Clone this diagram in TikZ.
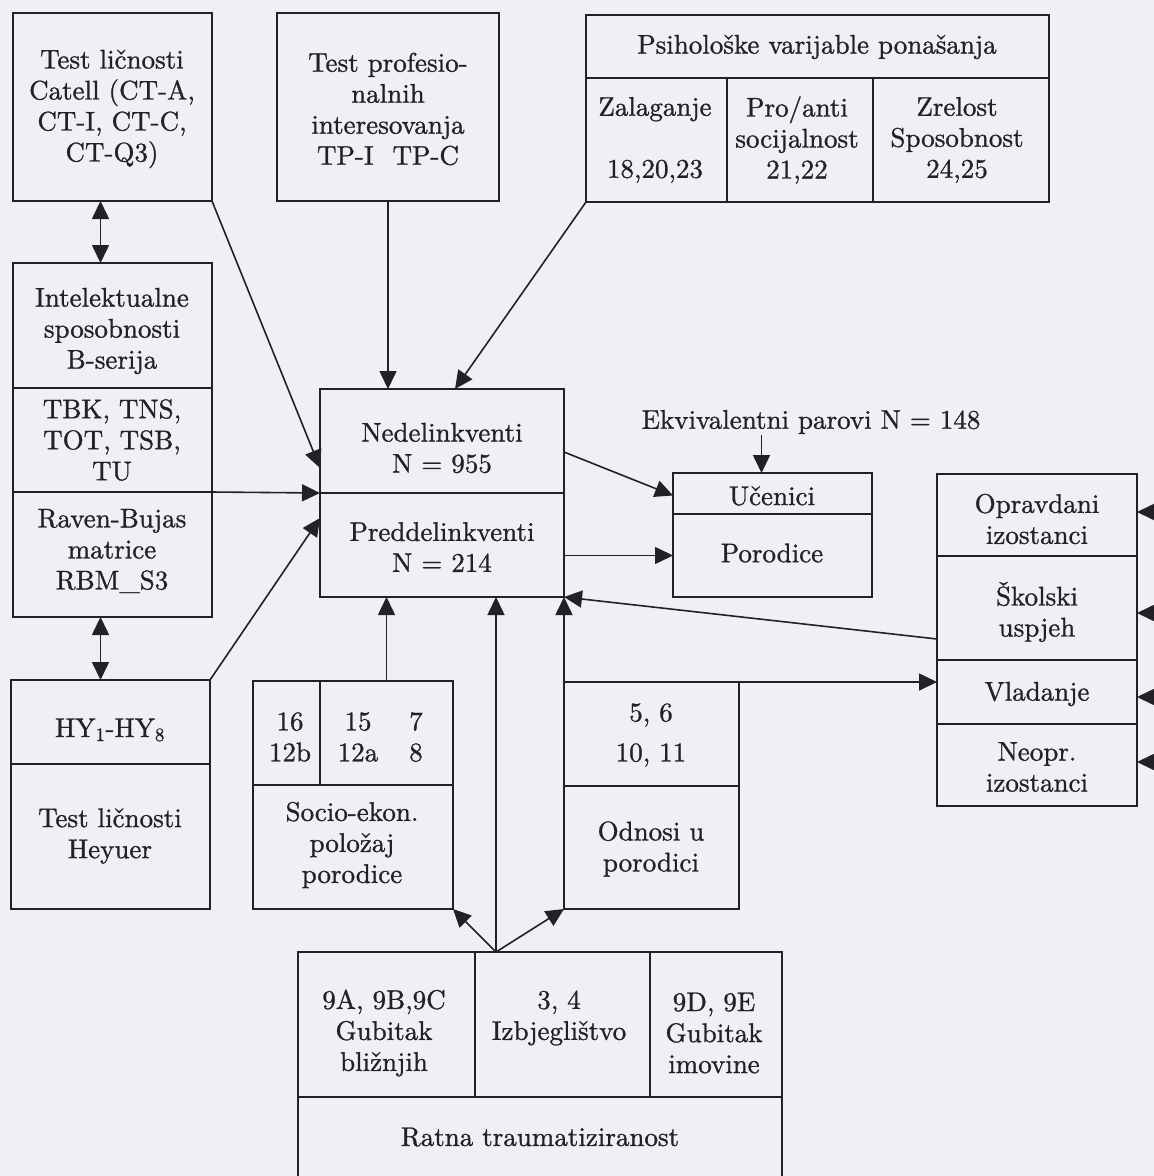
\documentclass[tikz,border=0pt]{standalone}
\usepackage{fontspec}
\setmainfont{lmroman10-regular.otf}[FakeBold=1.0]
\usetikzlibrary{arrows.meta}
\definecolor{bgc}{RGB}{239,239,244}
\definecolor{ink}{RGB}{34,34,38}
\begin{document}
\begin{tikzpicture}[x=1pt,y=-1pt,
  cell/.style={draw=ink, line width=1.7pt, anchor=north west, inner sep=0pt, outer sep=0pt},
  txt/.style={align=center, inner sep=1pt, text=ink, font=\fontsize{27}{31}\selectfont},
  arr/.style={draw=ink, line width=1.6pt, -{Triangle[length=18pt,width=17pt]}},
  dbl/.style={draw=ink, line width=1.6pt, {Triangle[length=18pt,width=17pt]}-{Triangle[length=18pt,width=17pt]}}]
\useasboundingbox (0,0) rectangle (1154,1176);
\clip (0,0) rectangle (1154,1176);
\fill[bgc] (0,0) rectangle (1154,1176);

% cells
\node[cell, minimum width=199pt, minimum height=188pt] (catell) at (13,13) {};
\node[cell, minimum width=199pt, minimum height=125pt] (intel1) at (13,263) {};
\node[cell, minimum width=199pt, minimum height=104pt] (intel2) at (13,388) {};
\node[cell, minimum width=199pt, minimum height=125pt] (intel3) at (13,492) {};
\node[cell, minimum width=199pt, minimum height=84pt] (hy1) at (11,680) {};
\node[cell, minimum width=199pt, minimum height=145pt] (hy2) at (11,764) {};
\node[cell, minimum width=222pt, minimum height=188pt] (tp) at (277,13) {};
\node[cell, minimum width=463pt, minimum height=63pt] (psih) at (586,15) {};
\node[cell, minimum width=141pt, minimum height=124pt] (psi1) at (586,78) {};
\node[cell, minimum width=146pt, minimum height=124pt] (psi2) at (727,78) {};
\node[cell, minimum width=176pt, minimum height=124pt] (psi3) at (873,78) {};
\node[cell, minimum width=244pt, minimum height=104pt] (ned) at (320,389) {};
\node[cell, minimum width=244pt, minimum height=104pt] (pred) at (320,493) {};
\node[cell, minimum width=199pt, minimum height=41pt] (uc1) at (673,473) {};
\node[cell, minimum width=199pt, minimum height=83pt] (uc2) at (673,514) {};
\node[cell, minimum width=200pt, minimum height=82pt] (r1) at (937,474) {};
\node[cell, minimum width=200pt, minimum height=104pt] (r2) at (937,556) {};
\node[cell, minimum width=200pt, minimum height=64pt] (r3) at (937,660) {};
\node[cell, minimum width=200pt, minimum height=82pt] (r4) at (937,724) {};
\node[cell, minimum width=67pt, minimum height=104pt] (socio1a) at (253,681) {};
\node[cell, minimum width=133pt, minimum height=104pt] (socio1b) at (320,681) {};
\node[cell, minimum width=200pt, minimum height=124pt] (socio2) at (253,785) {};
\node[cell, minimum width=175pt, minimum height=104pt] (odn1) at (564,682) {};
\node[cell, minimum width=175pt, minimum height=123pt] (odn2) at (564,786) {};
\node[cell, minimum width=177pt, minimum height=145pt] (ratna1) at (298,952) {};
\node[cell, minimum width=175pt, minimum height=145pt] (ratna2) at (475,952) {};
\node[cell, minimum width=132pt, minimum height=145pt] (ratna3) at (650,952) {};
\node[cell, minimum width=484pt, minimum height=140pt] (ratna4) at (298,1097) {};

% texts
\node[txt] (tcatell) at (112,109) {Test ličnosti\\Catell (CT-A,\\CT-I, CT-C,\\CT-Q3)};
\node[txt] (ttp) at (388,109) {Test profesio-\\nalnih\\interesovanja\\TP-I\hspace{0.7em}TP-C};
\node[txt] (tintel1) at (112,331) {Intelektualne\\sposobnosti\\B-serija};
\node[txt] (tintel2) at (112,440) {TBK, TNS,\\TOT, TSB,\\TU};
\node[txt] (tintel3) at (112,551) {Raven-Bujas\\matrice\\RBM\_S3};
\node[txt] (thy1) at (110,730) {HY\textsubscript{1}-HY\textsubscript{8}};
\node[txt] (thy2) at (110,836) {Test ličnosti\\Heyuer};
\node[txt] (tpsih) at (817,47) {Psihološke varijable ponašanja};
\node[txt] (tpsi1) at (655,140) {Zalaganje\\\mbox{}\\18,20,23};
\node[txt] (tpsi2) at (797,140) {Pro/anti\\socijalnost\\21,22};
\node[txt] (tpsi3) at (957,140) {Zrelost\\Sposobnost\\24,25};
\node[txt] (tned) at (442,448) {Nedelinkventi\\N = 955};
\node[txt] (tpred) at (442,547) {Preddelinkventi\\N = 214};
\node[txt] (ekv) at (811,422) {Ekvivalentni parovi N = 148};
\node[txt] (tuc1) at (772,496) {Učenici};
\node[txt] (tuc2) at (772,553) {Porodice};
\node[txt] (tr1) at (1037,519) {Opravdani\\izostanci};
\node[txt] (tr2) at (1037,612) {Školski\\uspjeh};
\node[txt] (tr3) at (1037,694) {Vladanje};
\node[txt] (tr4) at (1037,767) {Neopr.\\izostanci};
\node[txt] (ts16) at (290,737) {16\\12b};
\node[txt] (ts15) at (358,737) {15\\12a};
\node[txt] (ts7) at (416,737) {7\\8};
\node[txt] (tsocio2) at (352,845) {Socio-ekon.\\položaj\\porodice};
\node[txt] (todn1) at (651,735) {5, 6\\[9pt]10, 11};
\node[txt] (todn2) at (651,849) {Odnosi u\\porodici};
\node[txt] (tratna1) at (384,1033) {9A, 9B,9C\\Gubitak\\bližnjih};
\node[txt] (tratna2) at (559,1018) {3, 4\\Izbjeglištvo};
\node[txt] (tratna3) at (714,1033) {9D, 9E\\Gubitak\\imovine};
\node[txt] (tratna4) at (540,1137) {Ratna traumatiziranost};

% connectors
\draw[dbl] ([xshift=-12pt]catell.south) -- ([xshift=-12pt]intel1.north);
\draw[dbl] ([xshift=-12pt]intel3.south) -- ([xshift=-10pt]hy1.north);
\draw[arr] (catell.south east) -- ([yshift=-27pt]ned.west);
\draw[arr] (intel2.south east) -- (ned.south west);
\draw[arr] (hy1.north east) -- ([yshift=27pt]pred.west);
\draw[arr] (tp.south) -- (tp.south |- ned.north);
\draw[arr] (psi1.south west) -- ([xshift=13pt]ned.north);
\coordinate (uctip) at ([xshift=-11pt]uc1.north);
\draw[arr] (ekv.south -| uctip) -- (uctip);
\draw[arr] ([yshift=-11pt]ned.east) -- ([yshift=-2pt]uc1.west);
\draw[arr] (uc2.west -| pred.east) -- (uc2.west);
\draw[arr] ([yshift=-31pt]r2.west) -- (pred.south east);
\draw[arr] (socio1b.north) -- (socio1b.north |- pred.south);
\draw[arr] (odn1.north west) -- (pred.south east);
\draw[arr] (odn1.north west) -- (odn1.north west -| r3.west);
\coordinate (rt) at ([xshift=21pt]ratna2.north west);
\draw[arr] (rt) -- (rt |- pred.south);
\draw[arr] (rt) -- (socio2.south east);
\draw[arr] (rt) -- (odn2.south west);
\coordinate (in1) at (1185,512);
\coordinate (in2) at (1185,613);
\coordinate (in3) at (1185,697);
\coordinate (in4) at (1185,762);
\draw[arr] (in1) -- (in1 -| r1.east);
\draw[arr] (in2) -- (in2 -| r2.east);
\draw[arr] (in3) -- (in3 -| r3.east);
\draw[arr] (in4) -- (in4 -| r4.east);
\end{tikzpicture}
\end{document}
